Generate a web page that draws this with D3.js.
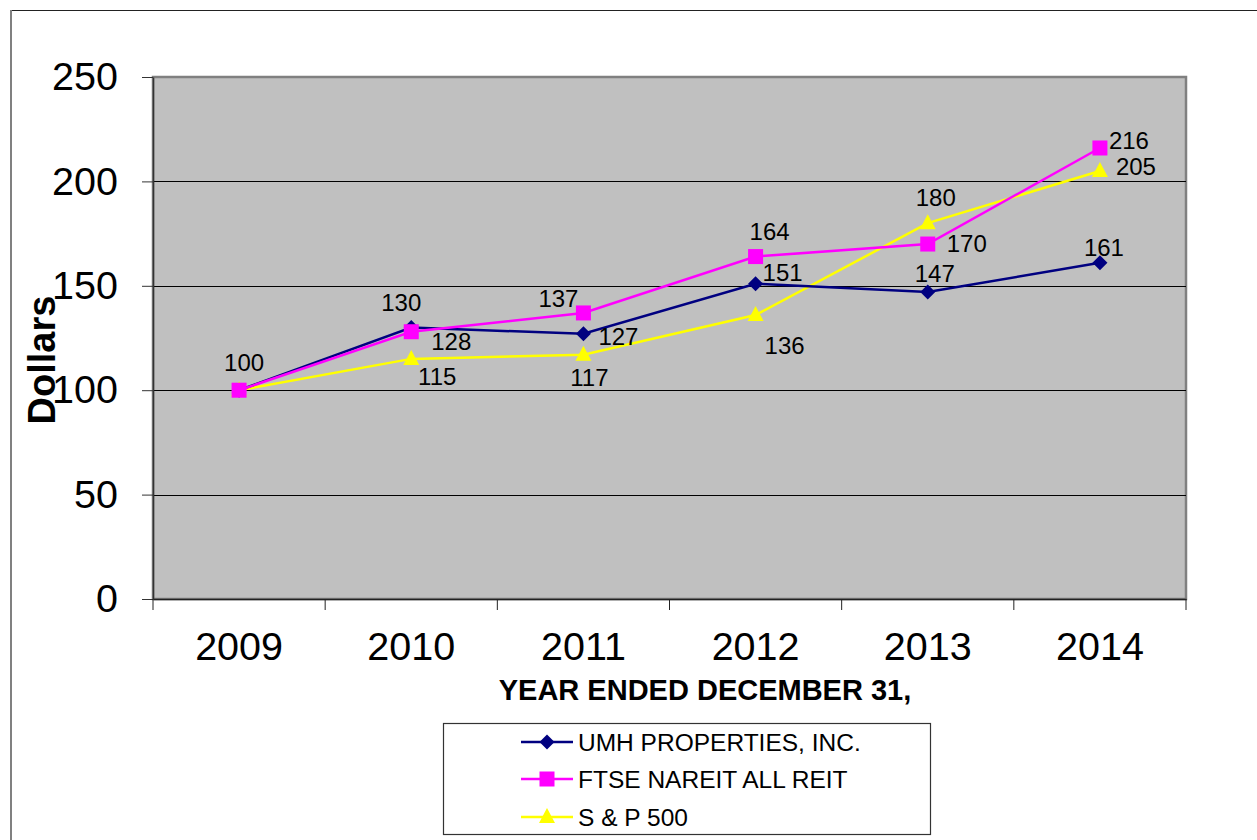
<!DOCTYPE html>
<html>
<head>
<meta charset="utf-8">
<script src="https://cdn.jsdelivr.net/npm/d3@7"></script>
<style>
  body { margin: 0; background: #fff; }
  svg { display: block; font-family: Arial, "Liberation Sans", sans-serif; }
</style>
</head>
<body>
<script>
var years = ["2009", "2010", "2011", "2012", "2013", "2014"];
var umh = [100, 130, 127, 151, 147, 161];
var ftse = [100, 128, 137, 164, 170, 216];
var sp500 = [100, 115, 117, 136, 180, 205];
var yTicks = [0, 50, 100, 150, 200, 250];
var seriesNames = ["UMH PROPERTIES, INC.", "FTSE NAREIT ALL REIT", "S & P 500"];

// where each value label sits relative to its point (Excel placed them by hand)
var umhLabelOff = [[5, -28], [-10, -25], [35, 3], [27, -11], [7, -19], [4, -15]];
var ftseLabelOff = [null, [40, 10], [-25, -14], [14, -25], [39, -1], [29, -7]];
var spLabelOff = [null, [26, 18], [6, 23], [29, 30], [8, -26], [36, -4]];

var w = 1257, h = 840;
var plotL = 153, plotR = 1186, plotT = 77, plotB = 599;

var series = [
  {name: seriesNames[0], values: umh, off: umhLabelOff, colour: "#000080", shape: "diamond"},
  {name: seriesNames[1], values: ftse, off: ftseLabelOff, colour: "#FF00FF", shape: "square"},
  {name: seriesNames[2], values: sp500, off: spLabelOff, colour: "#FFFF00", shape: "triangle"}
];

var svg = d3.select("body").append("svg")
            .attr("width", w)
            .attr("height", h);

// outer chart border
svg.append("line").attr("x1", 11).attr("y1", 10.5).attr("x2", w).attr("y2", 10.5)
   .attr("stroke", "#222").attr("stroke-width", 1);
svg.append("line").attr("x1", 11).attr("y1", 10).attr("x2", 11).attr("y2", h)
   .attr("stroke", "#808080").attr("stroke-width", 2);

var x = d3.scaleBand().domain(years).range([plotL, plotR]);
var xi = d3.scaleLinear().domain([0, years.length]).range([plotL, plotR]);
var y = d3.scaleLinear().domain([0, 250]).range([plotB, plotT]);

// plot area
svg.append("rect")
   .attr("x", plotL).attr("y", plotT)
   .attr("width", plotR - plotL).attr("height", plotB - plotT)
   .attr("fill", "#C0C0C0")
   .attr("stroke", "#808080")
   .attr("stroke-width", 2.5);

svg.selectAll("line.grid")
   .data(yTicks.filter(function(d){ return d > 0 && d < 250; }))
   .enter().append("line")
   .attr("class", "grid")
   .attr("x1", plotL).attr("x2", plotR)
   .attr("y1", function(d){ return Math.round(y(d)) + 0.5; })
   .attr("y2", function(d){ return Math.round(y(d)) + 0.5; })
   .attr("stroke", "#000").attr("stroke-width", 1);

// y axis
var yAxis = svg.append("g")
   .attr("transform", "translate(" + plotL + ",0)")
   .call(d3.axisLeft(y).tickValues(yTicks).tickSize(11).tickPadding(24).tickSizeOuter(0));
yAxis.select(".domain").attr("stroke", "#333").attr("stroke-width", 1.5);
yAxis.selectAll(".tick line").attr("stroke", "#333");
yAxis.selectAll("text").attr("font-size", "39.5px").attr("fill", "#000")
     .attr("font-family", "Arial, 'Liberation Sans', sans-serif");

// x axis
var xAxis = svg.append("g")
   .attr("transform", "translate(0," + plotB + ")")
   .call(d3.axisBottom(x).tickSize(0).tickPadding(33).tickSizeOuter(0));
xAxis.select(".domain").attr("stroke", "#222").attr("stroke-width", 1.5);
xAxis.selectAll("text").attr("font-size", "39.5px").attr("fill", "#000")
     .attr("font-family", "Arial, 'Liberation Sans', sans-serif");

svg.selectAll("line.xtick")
   .data(d3.range(years.length + 1))
   .enter().append("line")
   .attr("class", "xtick")
   .attr("x1", function(d){ return xi(d); })
   .attr("x2", function(d){ return xi(d); })
   .attr("y1", plotB).attr("y2", plotB + 11)
   .attr("stroke", "#222").attr("stroke-width", 1);

// axis titles
svg.append("text")
   .attr("transform", "translate(55,360) rotate(-90)")
   .attr("text-anchor", "middle")
   .attr("font-size", "38px")
   .attr("font-weight", "bold")
   .text("Dollars");

svg.append("text")
   .attr("x", 705).attr("y", 700)
   .attr("text-anchor", "middle")
   .attr("font-size", "29px")
   .attr("font-weight", "bold")
   .text("YEAR ENDED DECEMBER 31,");

function marker(sel, shape, colour) {
  if (shape === "square") {
    sel.append("rect").attr("x", -7.5).attr("y", -7.5).attr("width", 15).attr("height", 15)
       .attr("fill", colour);
  } else if (shape === "diamond") {
    sel.append("path").attr("d", "M0,-7.5L7.5,0L0,7.5L-7.5,0Z").attr("fill", colour);
  } else {
    sel.append("path").attr("d", "M0,-9L8,6L-8,6Z").attr("fill", colour);
  }
}

var line = d3.line()
   .x(function(d, i){ return x(years[i]) + x.bandwidth() / 2; })
   .y(function(d){ return y(d); });

// yellow first so magenta and navy sit on top like the original
var drawOrder = [2, 0, 1];
drawOrder.forEach(function(k){
  var s = series[k];
  svg.append("path")
     .datum(s.values)
     .attr("d", line)
     .attr("fill", "none")
     .attr("stroke", s.colour)
     .attr("stroke-width", 2.5);
});
drawOrder.forEach(function(k){
  var s = series[k];
  s.values.forEach(function(v, i){
    var g = svg.append("g")
       .attr("transform", "translate(" + (x(years[i]) + x.bandwidth() / 2) + "," + y(v) + ")");
    marker(g, s.shape, s.colour);
  });
});

// value labels
series.forEach(function(s){
  s.values.forEach(function(v, i){
    if (!s.off[i]) return;
    svg.append("text")
       .attr("x", x(years[i]) + x.bandwidth() / 2 + s.off[i][0])
       .attr("y", y(v) + s.off[i][1])
       .attr("text-anchor", "middle")
       .attr("dominant-baseline", "central")
       .attr("font-size", "24px")
       .attr("fill", "#000")
       .text(v);
  });
});

// legend
var legend = svg.append("g");
legend.append("rect")
   .attr("x", 443.5).attr("y", 723.5)
   .attr("width", 487).attr("height", 111)
   .attr("fill", "#fff")
   .attr("stroke", "#333").attr("stroke-width", 1.2);

var rowY = [742, 779, 817];
series.forEach(function(s, i){
  legend.append("line")
     .attr("x1", 521).attr("x2", 573)
     .attr("y1", rowY[i]).attr("y2", rowY[i])
     .attr("stroke", s.colour).attr("stroke-width", 2.5);
  var g = legend.append("g").attr("transform", "translate(547," + rowY[i] + ")");
  marker(g, s.shape, s.colour);
  legend.append("text")
     .attr("x", 578).attr("y", rowY[i])
     .attr("dominant-baseline", "central")
     .attr("font-size", "24.5px")
     .text(s.name);
});
</script>
</body>
</html>
